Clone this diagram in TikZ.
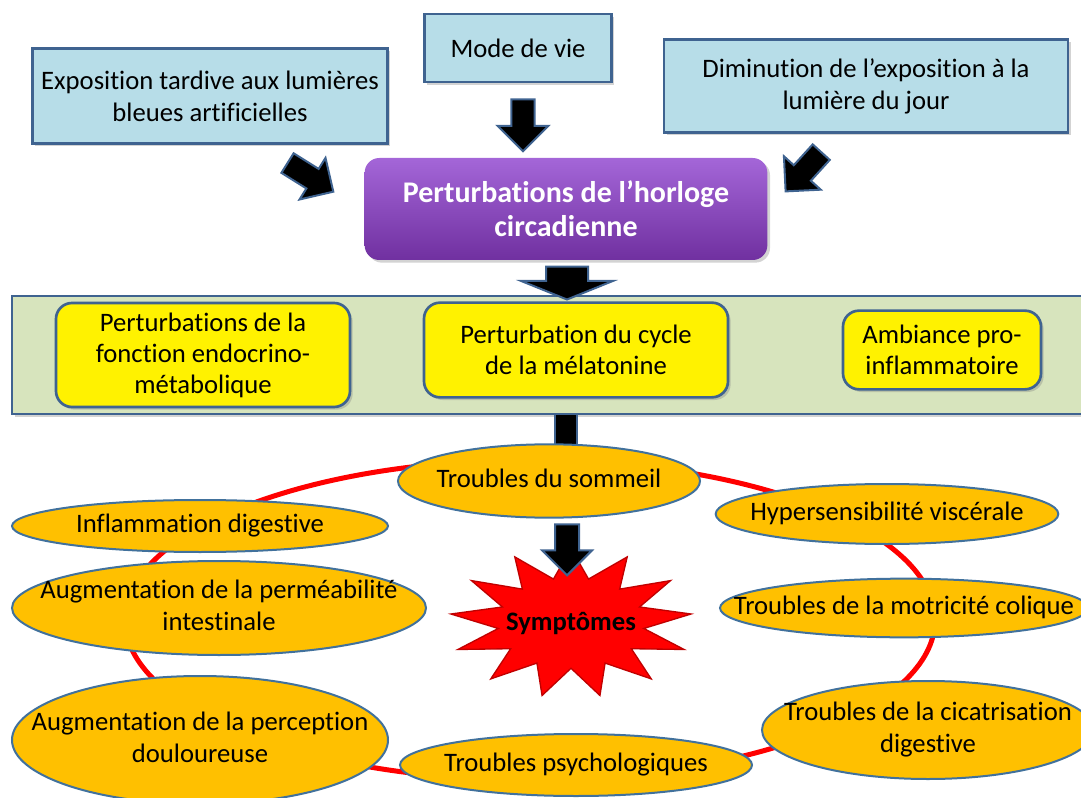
\documentclass[tikz,border=0pt]{standalone}
\usepackage{fontspec}
\setmainfont{Carlito}[Ligatures=NoCommon]
\usepackage{tikz}
\usetikzlibrary{calc,positioning,shapes.geometric,shapes.arrows,shadows}

\definecolor{bleuclair}{HTML}{B7DDE8}
\definecolor{bord}{HTML}{3F6390}
\definecolor{violet}{HTML}{7030A0}
\definecolor{violetclair}{HTML}{A466D8}
\definecolor{vertpale}{HTML}{D7E4BD}
\definecolor{orangeov}{HTML}{FFC000}
\definecolor{bordov}{HTML}{41719C}
\definecolor{rougefonce}{HTML}{C00000}

\newcommand{\ctxt}[1]{\makebox[0pt]{\begin{tabular}{@{}c@{}}#1\end{tabular}}}

\tikzset{
  ombre/.style={drop shadow={shadow xshift=2pt, shadow yshift=-2pt, opacity=0.35, fill=gray}},
  cause/.style={rectangle, draw=bord, line width=2pt, fill=bleuclair, inner sep=0pt, align=center, ombre},
  horloge/.style={rectangle, rounded corners=11pt, top color=violetclair, middle color=violet, bottom color=violet, text=white, font=\fontsize{22.5}{25.5}\selectfont\bfseries, inner sep=0pt, align=center, ombre},
  bande/.style={rectangle, draw=bord, line width=2pt, fill=vertpale, inner sep=0pt, ombre},
  effet/.style={rectangle, rounded corners=12pt, draw=bord, line width=2pt, fill=yellow, inner sep=0pt, align=center, font=\fontsize{20}{23.25}\selectfont, ombre},
  ovale/.style={ellipse, draw=bordov, line width=1.5pt, fill=orangeov, inner sep=0pt},
  anneau/.style={draw=red, line width=3.75pt},
  barre/.style={draw=bord, line width=1.2pt, double=black, double distance=15pt},
  fleche/.style={single arrow, draw=bord, line width=1.5pt, fill=black, inner xsep=0pt, inner ysep=7.9pt, sloped, allow upside down}
}

\begin{document}
\begin{tikzpicture}[x=0.75pt, y=-0.75pt, font=\fontsize{20}{24}\selectfont]
\useasboundingbox (0,0) rectangle (1081,798);

\node[cause, minimum width=266pt, minimum height=71pt] (expo) at (210,96) {Exposition tardive aux lumières\\bleues artificielles};
\node[cause, minimum width=140pt, minimum height=51pt] (mode) at (518,48) {Mode de vie};
\node[cause, minimum width=303pt, minimum height=70pt] (dimin) at (866,86) {Diminution de l’exposition à la\\lumière du jour};
\node[horloge, minimum width=302pt, minimum height=76.5pt] (horl) at (566,209) {Perturbations de l’horloge\\circadienne};

\node[bande, minimum width=816pt, minimum height=88.5pt] (band) at (556,355) {};
\node[effet, minimum width=220.5pt, minimum height=78pt] (endo) at (203,355) {Perturbations de la\\fonction endocrino-\\métabolique};
\node[effet, minimum width=228pt, minimum height=71pt] (melat) at (576,350) {Perturbation du cycle\\de la mélatonine};
\node[effet, minimum width=148.5pt, minimum height=59pt] (ambi) at (942,350) {Ambiance pro-\\inflammatoire};

\draw[anneau] (530,620) ellipse [x radius=405, y radius=160];

\coordinate (barre0) at ($(band.south)+(10,0)$);
\draw[barre] (barre0) -- ($(barre0)+(0,32)$);

\node[ovale, minimum width=226.5pt, minimum height=55pt] (sommeil) at (549,481) {\ctxt{Troubles du sommeil}};
\node[ovale, minimum width=282pt, minimum height=39pt] (inflam) at (200,526) {\ctxt{Inflammation digestive}};
\node[ovale, minimum width=257pt, minimum height=45pt] (hyper) at (887,514) {\ctxt{Hypersensibilité viscérale}};
\node[ovale, minimum width=310.5pt, minimum height=70.5pt] (perm) at (219,608) {\ctxt{Augmentation de la perméabilité\\intestinale}};
\node[ovale, minimum width=276pt, minimum height=44pt] (motric) at (904,608) {\ctxt{Troubles de la motricité colique}};
\node[ovale, minimum width=282pt, minimum height=96pt] (percep) at (200,740) {\ctxt{Augmentation de la perception\\douloureuse}};
\node[ovale, minimum width=249pt, minimum height=73.5pt] (cicat) at (928,730) {\ctxt{Troubles de la cicatrisation\\digestive}};
\node[ovale, minimum width=264pt, minimum height=46.5pt] (psycho) at (576,765) {\ctxt{Troubles psychologiques}};

\node[star, star points=13, star point ratio=1.65, minimum size=112pt, xscale=1.62, transform shape, fill=red, draw=rougefonce, line width=1pt, inner sep=0pt] (etoile) at (571,623) {};
\node[font=\fontsize{20}{24}\selectfont\bfseries] (sympt) at (etoile.center) {Symptômes};

\path ($(expo.south east)+(-105,16)$) -- node[fleche, minimum height=40.5pt, minimum width=35.25pt, single arrow head extend=9.75pt] (f1) {} ($(horl.west)+(-37,-21)$);
\path ($(mode.south)+(5,11)$) -- node[fleche, minimum height=39pt, minimum width=36.75pt, single arrow head extend=10.5pt] (f2) {} ($(horl.north)+(-43,-13)$);
\path ($(dimin.south)+(-41,14)$) -- node[fleche, minimum height=39.75pt, minimum width=36pt, single arrow head extend=10pt] (f3) {} ($(horl.east)+(22,-22)$);
\path ($(horl.south)+(1,2)$) -- node[fleche, inner ysep=15pt, minimum height=24.75pt, minimum width=67.5pt, single arrow head extend=18.75pt, single arrow tip angle=136] (f4) {} ($(horl.south)+(1,35)$);
\path ($(sommeil.south)+(18,1)$) -- node[fleche, inner ysep=8.25pt, minimum height=38.25pt, minimum width=36pt, single arrow head extend=9.75pt] (f5) {} ($(etoile.center)+(-4,-55)$);
\end{tikzpicture}
\end{document}
